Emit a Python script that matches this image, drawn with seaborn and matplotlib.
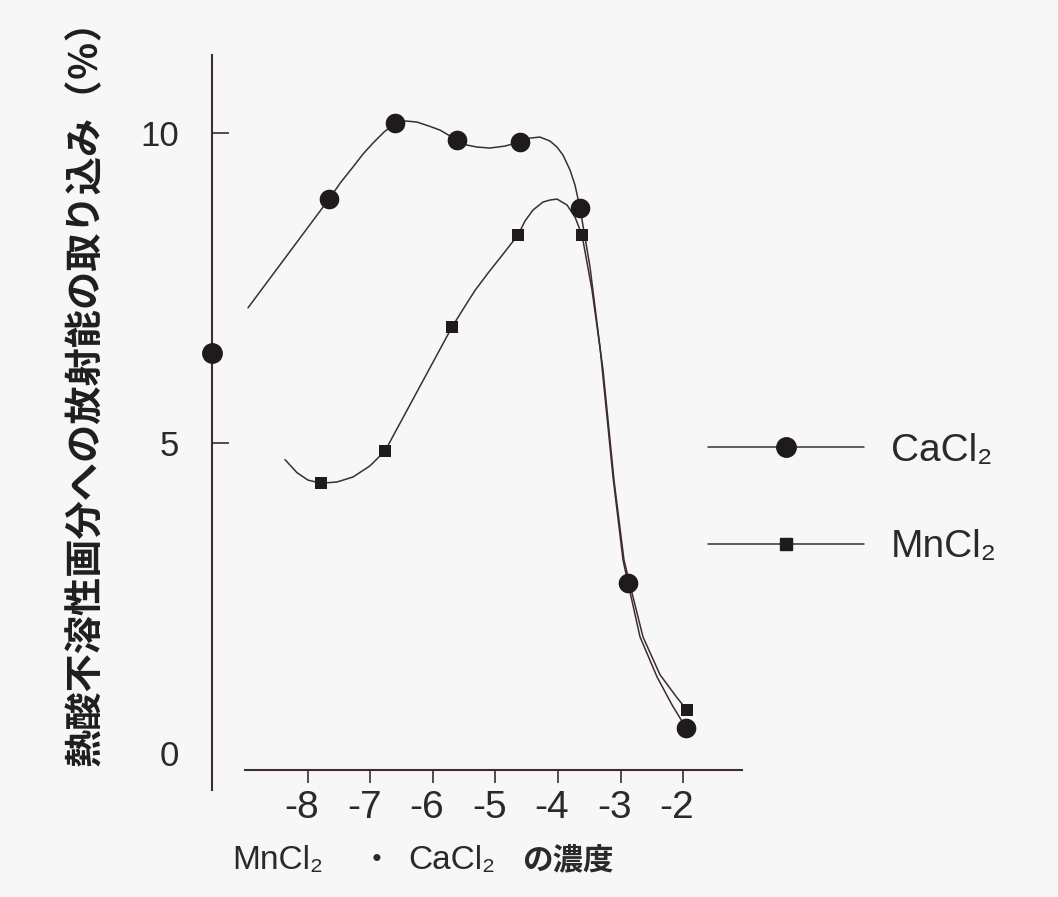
import matplotlib
matplotlib.use("Agg")
import matplotlib.pyplot as plt
import matplotlib.transforms as mtransforms
from matplotlib.lines import Line2D
from matplotlib.font_manager import FontProperties
import pandas as pd
import seaborn as sns

# --- data ----------------------------------------------------------------
# marker points (log concentration, % uptake)
ca_x = [-7.664, -6.608, -5.616, -4.608, -3.648, -2.88, -1.952]
ca_y = [8.94, 10.16, 9.89, 9.85, 8.79, 2.74, 0.40]
mn_x = [-7.792, -6.768, -5.696, -4.64, -3.616, -1.936]
mn_y = [4.35, 4.87, 6.87, 8.35, 8.35, 0.69]
control_y = 6.45  # point sitting on the y axis

# hand-drawn curves
ca_curve_x = [-8.96, -7.664, -7.472, -7.28, -7.12, -6.96, -6.784, -6.608, -6.432,
              -6.256, -6.064, -5.888, -5.616, -5.456, -5.296, -5.088, -4.848,
              -4.608, -4.448, -4.288, -4.128, -4.016, -3.92, -3.808, -3.728,
              -3.648, -3.488, -3.328, -3.12, -2.96, -2.88, -2.688, -2.416,
              -2.176, -1.952]
ca_curve_y = [7.18, 8.935, 9.21, 9.452, 9.661, 9.839, 10.016, 10.161, 10.194,
              10.177, 10.113, 10.048, 9.887, 9.806, 9.774, 9.758, 9.79,
              9.855, 9.919, 9.935, 9.871, 9.774, 9.645, 9.403, 9.161,
              8.79, 7.839, 6.548, 4.452, 3.113, 2.742, 1.871, 1.226,
              0.774, 0.403]
mn_curve_x = [-8.368, -8.176, -8.0, -7.792, -7.536, -7.28, -7.008, -6.768,
              -5.696, -5.48, -5.328, -5.12, -4.928, -4.64, -4.528, -4.40, -4.24,
              -4.128, -4.016, -3.856, -3.728, -3.616, -3.456, -3.28, -3.104,
              -2.944, -2.848, -2.64, -2.368, -2.096, -1.936]
mn_curve_y = [4.73, 4.52, 4.40, 4.35, 4.37, 4.45, 4.63, 4.87,
              6.87, 7.22, 7.46, 7.74, 7.984, 8.355, 8.581, 8.758, 8.887,
              8.919, 8.935, 8.839, 8.645, 8.355, 7.468, 6.18, 4.40,
              3.11, 2.71, 1.87, 1.26, 0.89, 0.69]

xtick_vals = [-8, -7, -6, -5, -4, -3, -2]
xtick_labels = ["-8", "-7", "-6", "-5", "-4", "-3", "-2"]
ytick_vals = [0, 5, 10]
ytick_labels = ["0", "5", "10"]
series_labels = ["CaCl₂", "MnCl₂"]
xlabel_parts = ["MnCl₂", "・", "CaCl₂", "の濃度"]
ylabel = "熱酸不溶性画分への放射能の取り込み（％）"

# --- style ----------------------------------------------------------------
sns.set_theme(style="white")
latin = ["Liberation Sans", "DejaVu Sans", "Noto Sans CJK JP"]
cjk = ["Noto Sans CJK JP", "DejaVu Sans"]
plt.rcParams["font.family"] = latin
plt.rcParams["axes.unicode_minus"] = False

bg = "#f7f7f7"
line_c = "#3d2d2f"
mark_c = "#1f1a1c"
text_c = "#2a2a2a"

fig = plt.figure(figsize=(10.58, 8.97), dpi=100, facecolor=bg)
ax = fig.add_axes([212 / 1058, 1 - 790 / 897, (750 - 212) / 1058, (790 - 50) / 897])
ax.set_facecolor(bg)

ca_df = pd.DataFrame({"x": ca_curve_x, "y": ca_curve_y})
mn_df = pd.DataFrame({"x": mn_curve_x, "y": mn_curve_y})
sns.lineplot(data=ca_df, x="x", y="y", sort=False, estimator=None,
             color=line_c, lw=1.1, ax=ax)
sns.lineplot(data=mn_df, x="x", y="y", sort=False, estimator=None,
             color=line_c, lw=1.1, ax=ax)
sns.scatterplot(x=ca_x, y=ca_y, marker="o", s=200, color=mark_c,
                linewidth=0, ax=ax, zorder=3)
sns.scatterplot(x=mn_x, y=mn_y, marker="s", s=85, color=mark_c,
                linewidth=0, ax=ax, zorder=3)
ax.plot([0], [control_y], marker="o", ms=14, color=mark_c,
        transform=ax.get_yaxis_transform(), clip_on=False, zorder=4)

ax.set_xlim(-9.536, -0.928)
ax.set_ylim(-0.60, 11.34)
ax.set_xlabel("")
ax.set_ylabel("")

sns.despine(ax=ax, top=True, right=True)
ax.spines["bottom"].set_position(("data", -0.27))
ax.spines["bottom"].set_bounds(-9.0, -1.06)
ax.spines["left"].set_bounds(-0.60, 11.26)
for s in ("bottom", "left"):
    ax.spines[s].set_color(line_c)
    ax.spines[s].set_linewidth(1.5)

ax.set_xticks(xtick_vals)
ax.set_xticklabels(xtick_labels)
ax.set_yticks(ytick_vals)
ax.set_yticklabels(ytick_labels)
ax.tick_params(axis="x", direction="out", length=9, width=1.2, color=line_c,
               pad=6, labelsize=28, labelcolor=text_c, bottom=True)
ax.tick_params(axis="y", direction="in", length=12, width=1.2, color=line_c,
               pad=24, labelsize=25, labelcolor=text_c, left=True)
ax.yaxis.get_major_ticks()[0].tick1line.set_visible(False)

# digits sit under the ticks, minus sign hangs to the left
shift = mtransforms.ScaledTranslation(-6 / 100, 0, fig.dpi_scale_trans)
for lab in ax.get_xticklabels():
    lab.set_transform(lab.get_transform() + shift)

ylab = 1 - 860 / 897
fig.text(232 / 1058, ylab, xlabel_parts[0], ha="left", va="center",
         fontsize=24, color=text_c)
fig.text(377 / 1058, ylab, xlabel_parts[1], ha="center", va="center",
         fontsize=20, fontweight="bold", color=text_c, family=cjk)
fig.text(408 / 1058, ylab, xlabel_parts[2], ha="left", va="center",
         fontsize=24, color=text_c)
fig.text(522 / 1058, ylab, xlabel_parts[3], ha="left", va="center",
         fontsize=22, fontweight="bold", color=text_c, family=cjk)
fig.text(85 / 1058, 1 - 383 / 897, ylabel, rotation=90, ha="center", va="center",
         fontsize=27.5, fontweight="bold", color="#1e1e1e", family=cjk)

handles = [
    Line2D([], [], color=line_c, lw=1.1, marker="o", ms=14,
           markerfacecolor=mark_c, markeredgecolor=mark_c),
    Line2D([], [], color=line_c, lw=1.1, marker="s", ms=9,
           markerfacecolor=mark_c, markeredgecolor=mark_c),
]
fig.legend(handles, series_labels, loc="upper left",
           bbox_to_anchor=(708 / 1058, 1 - 433 / 897), frameon=False,
           prop=FontProperties(family=latin, size=28), labelcolor=text_c,
           handlelength=4.0, handletextpad=0.7, labelspacing=1.55,
           borderpad=0, borderaxespad=0)

fig.savefig("out.png", dpi=100, facecolor=bg)
